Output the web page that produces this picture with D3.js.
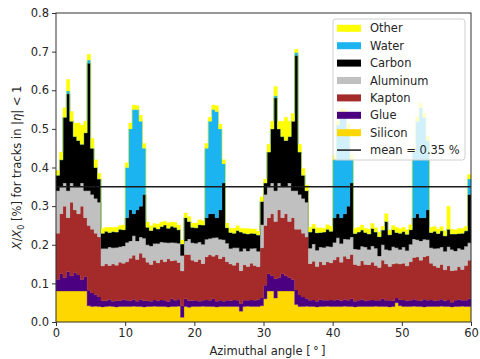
<!DOCTYPE html>
<html><head><meta charset="utf-8">
<script src="https://cdn.jsdelivr.net/npm/d3@7"></script>
<style>body{margin:0;background:#fff}text{font-family:"DejaVu Sans",sans-serif;fill:#262626}</style>
</head><body>
<svg id="c" width="480" height="359"></svg>
<script>
// bin width of the azimuthal histogram (degrees); 120 bins from 0 to 60
const binWidth = 0.5;
const materials = ["Silicon","Glue","Kapton","Aluminum","Carbon","Water","Other"];
const legendOrder = ["Other","Water","Carbon","Aluminum","Kapton","Glue","Silicon"];
const colors = {Other:"#ffff00",Water:"#1cb4f0",Carbon:"#000000",Aluminum:"#c0c0c0",Kapton:"#a52a2a",Glue:"#4b0082",Silicon:"#ffd700"};
const xTicks = [0,10,20,30,40,50,60];
const yTicks = [0.0,0.1,0.2,0.3,0.4,0.5,0.6,0.7,0.8];
const meanValue = 0.35;

const silicon = [
0.08,0.08,0.08,0.08,0.08,0.08,0.08,0.08,0.08,0.042,
0.04,0.041,0.04,0.039,0.04,0.041,0.04,0.039,0.04,0.04,
0.04,0.04,0.041,0.04,0.04,0.039,0.04,0.04,0.041,0.04,
0.04,0.04,0.039,0.04,0.04,0.041,0.012,0.04,0.038,0.04,
0.04,0.04,0.041,0.04,0.04,0.04,0.039,0.04,0.04,0.04,
0.04,0.04,0.04,0.028,0.04,0.041,0.04,0.04,0.04,0.042,
0.06,0.08,0.08,0.062,0.08,0.08,0.08,0.08,0.08,0.045,
0.04,0.04,0.041,0.04,0.04,0.039,0.04,0.04,0.041,0.04,
0.04,0.04,0.04,0.041,0.04,0.04,0.039,0.04,0.04,0.04,
0.04,0.04,0.041,0.04,0.04,0.04,0.039,0.04,0.05,0.042,
0.04,0.04,0.04,0.041,0.04,0.04,0.039,0.04,0.04,0.04,
0.04,0.041,0.04,0.04,0.039,0.04,0.04,0.041,0.04,0.04];
const glue = [
0.03,0.045,0.035,0.05,0.04,0.048,0.042,0.03,0.038,0.04,
0.035,0.03,0.025,0.016,0.015,0.017,0.014,0.016,0.015,0.018,
0.016,0.015,0.017,0.014,0.018,0.016,0.015,0.014,0.016,0.015,
0.017,0.016,0.014,0.02,0.016,0.018,0.03,0.02,0.017,0.015,
0.016,0.014,0.015,0.017,0.016,0.02,0.015,0.016,0.014,0.016,
0.015,0.017,0.016,0.02,0.016,0.015,0.017,0.016,0.018,0.02,
0.035,0.045,0.04,0.05,0.035,0.045,0.04,0.035,0.03,0.038,
0.03,0.025,0.02,0.016,0.017,0.015,0.018,0.016,0.015,0.017,
0.016,0.018,0.015,0.017,0.016,0.02,0.015,0.016,0.018,0.015,
0.016,0.017,0.015,0.016,0.02,0.016,0.017,0.015,0.012,0.016,
0.017,0.015,0.016,0.018,0.016,0.015,0.02,0.016,0.017,0.015,
0.016,0.018,0.015,0.017,0.012,0.016,0.018,0.015,0.016,0.02];
const kapton = [
0.12,0.155,0.185,0.14,0.19,0.162,0.158,0.19,0.152,0.168,
0.165,0.159,0.155,0.09,0.095,0.088,0.096,0.092,0.1,0.094,
0.1,0.11,0.115,0.108,0.12,0.112,0.1,0.095,0.102,0.098,
0.105,0.1,0.11,0.098,0.104,0.095,0.09,0.115,0.12,0.105,
0.1,0.108,0.095,0.112,0.118,0.11,0.12,0.108,0.115,0.1,
0.095,0.09,0.098,0.085,0.092,0.088,0.095,0.09,0.085,0.13,
0.155,0.145,0.16,0.148,0.175,0.145,0.16,0.145,0.16,0.157,
0.17,0.165,0.159,0.095,0.1,0.09,0.098,0.092,0.1,0.096,
0.105,0.11,0.1,0.112,0.108,0.115,0.095,0.09,0.1,0.094,
0.092,0.098,0.09,0.085,0.1,0.094,0.088,0.095,0.09,0.092,
0.095,0.09,0.1,0.108,0.112,0.105,0.11,0.115,0.095,0.09,
0.085,0.09,0.08,0.088,0.082,0.078,0.085,0.08,0.09,0.1];
const aluminum = [
0.11,0.07,0.06,0.07,0.05,0.06,0.07,0.06,0.07,0.09,
0.09,0.09,0.09,0.045,0.04,0.048,0.042,0.046,0.04,0.045,
0.05,0.045,0.05,0.048,0.042,0.05,0.045,0.048,0.044,0.05,
0.045,0.05,0.042,0.048,0.045,0.05,0.04,0.035,0.04,0.045,
0.048,0.045,0.05,0.045,0.042,0.048,0.045,0.05,0.044,0.048,
0.04,0.045,0.038,0.05,0.042,0.04,0.038,0.045,0.04,0.06,
0.08,0.08,0.08,0.08,0.07,0.08,0.07,0.1,0.07,0.1,
0.09,0.09,0.09,0.04,0.045,0.042,0.038,0.045,0.04,0.042,
0.045,0.05,0.048,0.045,0.05,0.045,0.04,0.042,0.038,0.045,
0.04,0.042,0.045,0.03,0.04,0.038,0.042,0.045,0.04,0.038,
0.042,0.04,0.045,0.048,0.045,0.05,0.045,0.042,0.04,0.045,
0.05,0.045,0.048,0.05,0.055,0.05,0.048,0.052,0.05,0.045];
const carbon = [
0.04,0.07,0.17,0.25,0.16,0.13,0.12,0.10,0.15,0.33,
0.12,0.08,0.06,0.04,0.045,0.038,0.042,0.04,0.045,0.042,
0.064,0.08,0.057,0.08,0.08,0.113,0.045,0.04,0.042,0.038,
0.04,0.045,0.038,0.042,0.04,0.035,0.03,0.06,0.045,0.04,
0.04,0.045,0.05,0.056,0.064,0.062,0.051,0.076,0.147,0.04,
0.042,0.038,0.045,0.05,0.04,0.044,0.04,0.038,0.042,0.06,
0.03,0.09,0.14,0.24,0.14,0.13,0.12,0.12,0.18,0.35,
0.11,0.06,0.03,0.042,0.04,0.045,0.038,0.04,0.044,0.04,
0.064,0.062,0.067,0.065,0.086,0.14,0.04,0.045,0.042,0.038,
0.04,0.045,0.042,0.05,0.038,0.072,0.04,0.044,0.04,0.042,
0.04,0.042,0.038,0.055,0.067,0.06,0.056,0.077,0.04,0.045,
0.038,0.042,0.04,0.045,0.04,0.044,0.038,0.042,0.04,0.125];
const water = [
0,0,0,0.008,0,0,0,0,0,0.008,
0,0,0,0,0,0,0,0,0,0,
0.13,0.21,0.27,0.26,0.22,0.12,0,0,0,0,
0,0,0,0,0,0,0,0,0,0,
0,0,0,0.18,0.24,0.27,0.275,0.21,0.05,0,
0,0,0,0,0,0,0,0,0,0,
0,0,0,0.006,0,0,0,0,0,0.008,
0,0,0,0,0,0,0,0,0,0,
0.15,0.23,0.27,0.26,0.2,0.06,0,0,0,0,
0,0,0,0,0,0,0,0,0,0,
0,0,0,0.17,0.24,0.285,0.26,0.18,0,0,
0,0,0,0,0,0,0,0,0,0.04];
const other = [
0.012,0.02,0.025,0.03,0.025,0.035,0.045,0.05,0.03,0.015,
0.025,0.02,0.015,0.012,0.01,0.013,0.011,0.012,0.01,0.012,
0.012,0.015,0.012,0.01,0.015,0.012,0.014,0.012,0.01,0.013,
0.012,0.01,0.014,0.011,0.013,0.012,0.01,0.012,0.013,0.011,
0.012,0.013,0.011,0.012,0.01,0.012,0.015,0.012,0.01,0.012,
0.011,0.013,0.012,0.01,0.012,0.014,0.011,0.012,0.01,0.012,
0.01,0.02,0.02,0.024,0.02,0.04,0.06,0.04,0.02,0.008,
0.02,0.018,0.015,0.012,0.011,0.013,0.012,0.01,0.012,0.013,
0.012,0.01,0.012,0.011,0.013,0.012,0.014,0.012,0.013,0.011,
0.012,0.013,0.011,0.012,0.01,0.02,0.012,0.011,0.013,0.012,
0.011,0.012,0.013,0.01,0.012,0.012,0.011,0.01,0.013,0.012,
0.012,0.011,0.013,0.06,0.012,0.011,0.013,0.012,0.011,0.012];

const series = {Silicon:silicon,Glue:glue,Kapton:kapton,Aluminum:aluminum,Carbon:carbon,Water:water,Other:other};
const rows = silicon.map((_, i) => {
  const r = {angle: i*binWidth};
  materials.forEach(m => r[m] = series[m][i]);
  return r;
});
// closing edge for step rendering
const last = Object.assign({}, rows[rows.length-1], {angle: rows.length*binWidth});
rows.push(last);

const svg = d3.select("#c");
const L = 56, R = 471, T = 13, B = 322;
const x = d3.scaleLinear().domain([0,60]).range([L,R]);
const y = d3.scaleLinear().domain([0,0.8]).range([B,T]);

const stacked = d3.stack().keys(materials)(rows);
const area = d3.area().curve(d3.curveStepAfter)
  .x(d => x(d.data.angle)).y0(d => y(d[0])).y1(d => y(d[1]));

const g = svg.append("g");
g.selectAll("path.layer").data(stacked).join("path")
  .attr("class","layer").attr("d", area)
  .attr("fill", d => colors[d.key]).attr("stroke", d => colors[d.key]).attr("stroke-width",0.3);

// mean line
g.append("line").attr("x1", x(0)).attr("x2", x(60)).attr("y1", y(meanValue)).attr("y2", y(meanValue))
  .attr("stroke","#1a1a1a").attr("stroke-width",1.5);

// axes
const xAxis = d3.axisBottom(x).tickValues(xTicks).tickSize(4).tickPadding(3).tickFormat(d3.format("d"));
const yAxis = d3.axisLeft(y).tickValues(yTicks).tickSize(4).tickPadding(3).tickFormat(d3.format(".1f"));
const gx = svg.append("g").attr("transform",`translate(0,${B})`).call(xAxis);
const gy = svg.append("g").attr("transform",`translate(${L},0)`).call(yAxis);
[gx,gy].forEach(a => {
  a.select(".domain").remove();
  a.selectAll(".tick line").attr("stroke","#333");
  a.selectAll(".tick text").style("font-size","11.5px").style("fill","#262626").style("font-family","DejaVu Sans");
});

// frame
svg.append("rect").attr("x",L).attr("y",T).attr("width",R-L).attr("height",B-T)
  .attr("fill","none").attr("stroke","#333").attr("stroke-width",1);

// axis titles
svg.append("text").attr("x",(L+R)/2+4).attr("y",355).attr("text-anchor","middle")
  .style("font-size","11.5px").text("Azimuthal angle [\u2009\u00b0\u2009]");

const yl = svg.append("text").attr("transform",`translate(21,${(T+B)/2}) rotate(-90)`)
  .attr("text-anchor","middle").style("font-size","11.5px");
yl.append("tspan").style("font-style","italic").text("X");
yl.append("tspan").text("/");
yl.append("tspan").style("font-style","italic").text("X");
yl.append("tspan").attr("dy",2.5).style("font-size","8px").text("0");
yl.append("tspan").attr("dy",-2.5).text(" [%] for tracks in |");
yl.append("tspan").style("font-style","italic").text("\u03b7");
yl.append("tspan").text("| < 1");

// legend
const lg = svg.append("g");
lg.append("rect").attr("x",333).attr("y",19).attr("width",132).attr("height",141).attr("rx",3)
  .attr("fill","white").attr("fill-opacity",0.8).attr("stroke","#d0d0d0").attr("stroke-width",1);
const rowY = i => 28.3 + i*17.4;
legendOrder.forEach((k,i) => {
  lg.append("rect").attr("x",337).attr("y",rowY(i)-3.5).attr("width",24).attr("height",7).attr("fill",colors[k]);
  lg.append("text").attr("x",370).attr("y",rowY(i)).attr("dy","0.35em").style("font-size","11.5px").text(k);
});
lg.append("line").attr("x1",337).attr("x2",361).attr("y1",rowY(7)).attr("y2",rowY(7)).attr("stroke","#1a1a1a").attr("stroke-width",1.5);
lg.append("text").attr("x",370).attr("y",rowY(7)).attr("dy","0.35em").style("font-size","11.5px").text("mean = 0.35 %");
</script>
</body></html>
